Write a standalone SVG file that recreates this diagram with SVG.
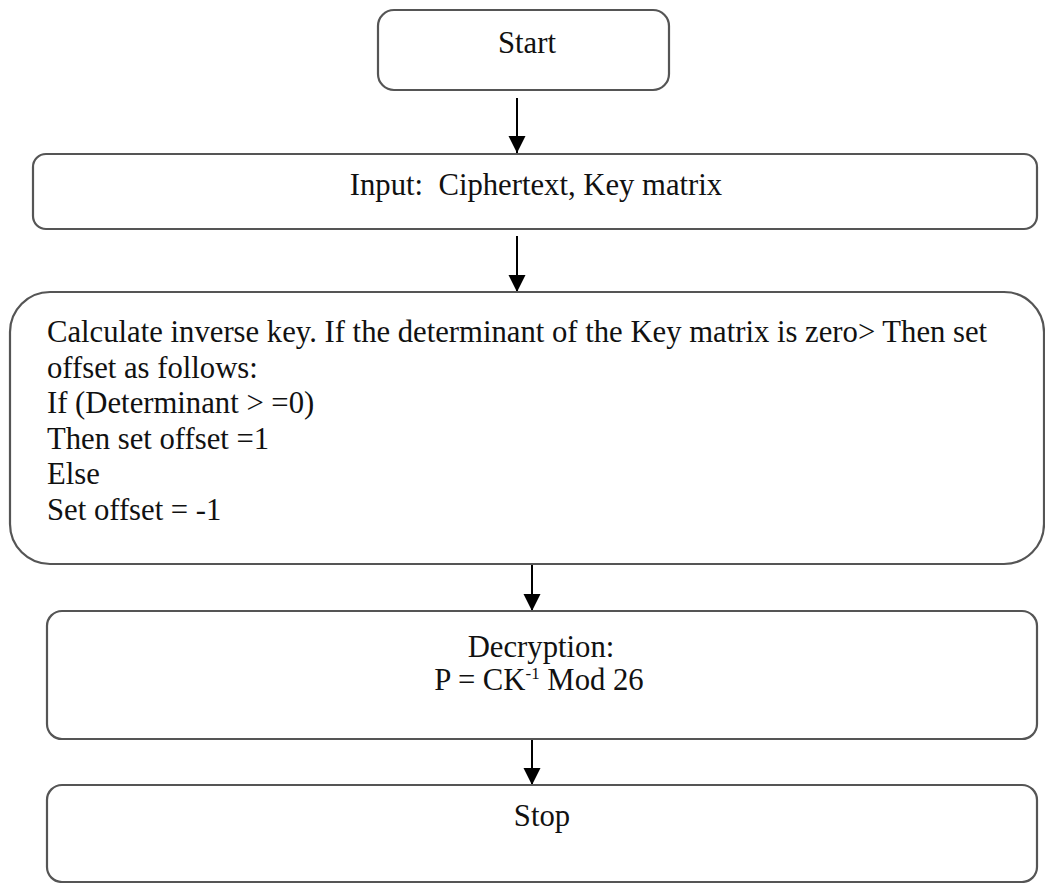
<svg xmlns="http://www.w3.org/2000/svg" width="1045" height="883" viewBox="0 0 1045 883">
  <style>
    .box { fill: #ffffff; stroke: #555555; stroke-width: 2.2; }
    .lbl { font-family: 'Liberation Serif', 'Times New Roman', 'DejaVu Serif', serif; font-size: 30.7px; fill: #111111; }
    .mid { text-anchor: middle; }
    .conn { stroke: #000000; stroke-width: 2; fill: none; marker-end: url(#arrowhead); }
  </style>
  <defs>
    <marker id="arrowhead" viewBox="0 0 10 10" refX="10" refY="5" markerWidth="17" markerHeight="18" markerUnits="userSpaceOnUse" orient="auto">
      <path d="M0,0 L10,5 L0,10 z" fill="#000000"/>
    </marker>
  </defs>
  <rect width="1045" height="883" fill="#ffffff"/>

  <g id="connectors">
    <line class="conn" x1="517" y1="98" x2="517" y2="153"/>
    <line class="conn" x1="517" y1="236" x2="517" y2="292"/>
    <line class="conn" x1="532" y1="564" x2="532" y2="611"/>
    <line class="conn" x1="532" y1="739" x2="532" y2="785"/>
  </g>

  <g id="start">
    <rect class="box" x="378" y="10" width="291" height="80" rx="16"/>
    <text class="lbl mid" x="527" y="53" font-size="33" font-family="Liberation Serif, serif">Start</text>
  </g>

  <g id="input">
    <rect class="box" x="33" y="154" width="1004" height="75" rx="13"/>
    <text class="lbl mid" x="536" y="195" font-family="Liberation Serif, serif" xml:space="preserve">Input:  Ciphertext, Key matrix</text>
  </g>

  <g id="inverse-key" font-family="Liberation Serif, serif">
    <rect class="box" x="10" y="292" width="1034" height="272" rx="40"/>
    <text class="lbl" x="47" y="342">Calculate inverse key. If the determinant of the Key matrix is zero&gt; Then set</text>
    <text class="lbl" x="47" y="378">offset as follows:</text>
    <text class="lbl" x="47" y="413">If (Determinant &gt; =0)</text>
    <text class="lbl" x="47" y="449">Then set offset =1</text>
    <text class="lbl" x="47" y="484">Else</text>
    <text class="lbl" x="47" y="520">Set offset = -1</text>
  </g>

  <g id="decryption">
    <rect class="box" x="47" y="611" width="990" height="128" rx="15"/>
    <text class="lbl mid" x="541" y="657">Decryption:</text>
    <text class="lbl mid" x="539" y="690">P = CK<tspan font-size="17" dy="-11">-1</tspan><tspan dy="11"> Mod 26</tspan></text>
  </g>

  <g id="stop">
    <rect class="box" x="47" y="785" width="990" height="97" rx="15"/>
    <text class="lbl mid" x="542" y="826">Stop</text>
  </g>
</svg>
